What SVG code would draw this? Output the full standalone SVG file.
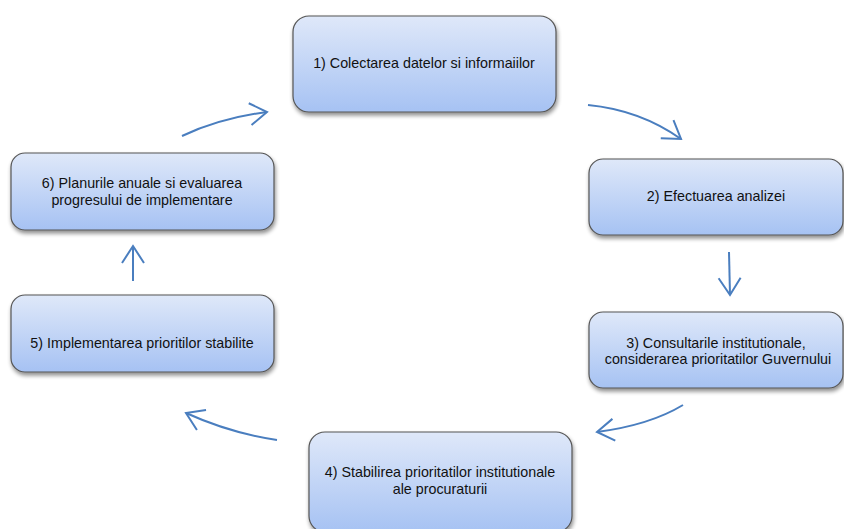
<svg xmlns="http://www.w3.org/2000/svg" width="844" height="529" viewBox="0 0 844 529">
<defs>
<linearGradient id="g" x1="0" y1="0" x2="0" y2="1">
<stop offset="0" stop-color="#dfe8f9"/>
<stop offset="1" stop-color="#a6c2f3"/>
</linearGradient>
<filter id="sh" x="-10%" y="-10%" width="130%" height="140%">
<feGaussianBlur in="SourceAlpha" stdDeviation="2"/>
<feOffset dx="1" dy="3" result="b"/>
<feComponentTransfer><feFuncA type="linear" slope="0.45"/></feComponentTransfer>
<feMerge><feMergeNode/><feMergeNode in="SourceGraphic"/></feMerge>
</filter>
<marker id="ah" markerWidth="26" markerHeight="26" refX="21" refY="13" orient="auto" markerUnits="userSpaceOnUse">
<polyline points="4,2 21,13 4,24" fill="none" stroke="#4a7ebf" stroke-width="2"/>
</marker>
</defs>
<style>
.box{fill:url(#g);stroke:#555;stroke-width:1.2;filter:url(#sh)}
.t{font-family:"Liberation Sans",Arial,sans-serif;font-size:14.3px;fill:#111;text-anchor:middle}
.c{fill:none;stroke:#4a7ebf;stroke-width:2;marker-end:url(#ah)}
</style>
<rect width="844" height="529" fill="#fff"/>
<g id="n1"><rect class="box" x="293" y="16" width="263" height="96" rx="16"/><text class="t" x="424" y="68">1) Colectarea datelor si informaiilor</text></g>
<g id="n2"><rect class="box" x="589" y="159" width="254" height="76" rx="14"/><text class="t" x="716" y="201">2) Efectuarea analizei</text></g>
<g id="n3"><rect class="box" x="589" y="312" width="254" height="76" rx="14"/><text class="t" x="716" y="348">3) Consultarile institutionale,</text><text class="t" x="718" y="364">considerarea prioritatilor Guvernului</text></g>
<g id="n4"><rect class="box" x="309" y="432" width="263" height="100" rx="16"/><text class="t" x="440" y="477">4) Stabilirea prioritatilor institutionale</text><text class="t" x="440" y="494">ale procuraturii</text></g>
<g id="n5"><rect class="box" x="11" y="295" width="263" height="77" rx="14"/><text class="t" x="142" y="348">5) Implementarea prioritilor stabilite</text></g>
<g id="n6"><rect class="box" x="11" y="153" width="263" height="77" rx="14"/><text class="t" x="142" y="188">6) Planurile anuale si evaluarea</text><text class="t" x="142" y="205">progresului de implementare</text></g>
<g id="connectors">
<path class="c" d="M588,105 Q640,110 681,139"/>
<path class="c" d="M729,252 L730,295"/>
<path class="c" d="M683,405 Q650,425 597,432"/>
<path class="c" d="M277,440 Q230,433 186,413"/>
<path class="c" d="M133,281 L133,246"/>
<path class="c" d="M182,136 Q220,118 267,112"/>
</g>
</svg>
